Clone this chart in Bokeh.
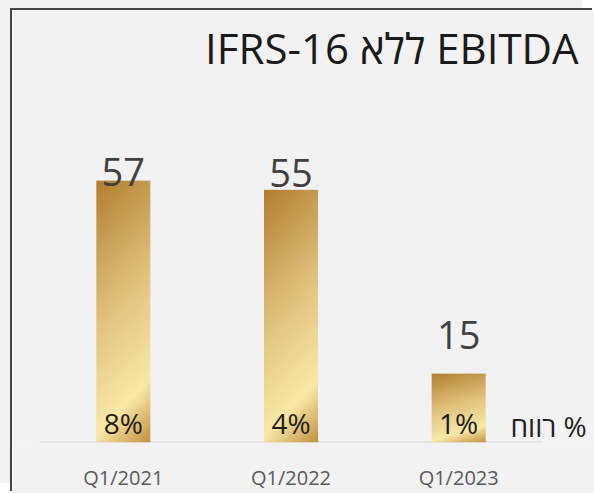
import numpy as np
from bokeh.plotting import figure
from bokeh.models import ColumnDataSource, Label, FixedTicker, Range1d
from bokeh.core.properties import value
from bokeh.embed import file_html
from bokeh.resources import INLINE

# ---- data ----
categories = ["Q1/2021", "Q1/2022", "Q1/2023"]
ebitda = [57, 55, 15]
margin_pct = ["8%", "4%", "1%"]
title_text = "IFRS-16 ללא EBITDA"
margin_caption = "רווח %"

# ---- styling ----
FONT = value("Open Sans")
BAR_W = 0.322
value_label_offsets = [-9, -17, -39]  # px, screen offsets of value labels


def gold_gradient(h=240, w=60):
    stops = [0.0, 0.45, 0.80, 1.0]
    cols = np.array([[0xB2, 0x7F, 0x31], [0xE0, 0xC2, 0x7D],
                     [0xFA, 0xE9, 0xA8], [0xC2, 0x90, 0x40]], dtype=float)
    rows = np.arange(h)[:, None]
    colsx = np.arange(w)[None, :]
    v = 1.0 - rows / (h - 1)          # 0 at top, 1 at bottom
    u = colsx / (w - 1)
    t = 0.82 * v + 0.18 * u
    img = np.empty((h, w), dtype=np.uint32)
    view = img.view(dtype=np.uint8).reshape((h, w, 4))
    for k in range(3):
        view[:, :, k] = np.interp(t, stops, cols[:, k]).astype(np.uint8)
    view[:, :, 3] = 255
    return img


xs = np.arange(len(categories))
src = ColumnDataSource(dict(
    x=xs.astype(float),
    left=xs - BAR_W / 2,
    base=[0.0] * len(xs),
    w=[BAR_W] * len(xs),
    val=ebitda,
    val_txt=[str(v) for v in ebitda],
    pct=margin_pct,
    voff=value_label_offsets,
    image=[gold_gradient() for _ in xs],
))

# layout (pixels); figure is placed at page (12, 10)
W, H = 582, 483
UNIT_X = 503 / 3.0        # px per category
PX_PER_UNIT = 4.594       # px per EBITDA unit
PAD_L, PAD_R = 27, 52     # space left / right of the category band
BOTTOM = 51
frame_h = H - BOTTOM

x0 = -0.5 - PAD_L / UNIT_X
x1 = len(categories) - 0.5 + PAD_R / UNIT_X
y1 = frame_h / PX_PER_UNIT

p = figure(width=W, height=H, output_backend="svg", toolbar_location=None,
           x_range=Range1d(x0, x1), y_range=Range1d(0, y1),
           min_border_left=0, min_border_right=0, min_border_top=0,
           min_border_bottom=BOTTOM)
p.styles = {"margin-left": "12px", "margin-top": "10px",
            "box-shadow": "-2px -2px 0 0 #454545, -12px -10px 0 0 #f2f2f2"}
p.background_fill_color = "#f2f2f2"
p.border_fill_color = "#f2f2f2"
p.outline_line_color = None
p.grid.visible = False
p.yaxis.visible = False

# baseline
p.segment(x0=[-0.5], x1=[len(categories) - 0.5], y0=[0], y1=[0],
          line_color="#d9d9d9", line_width=2)

p.image_rgba(image="image", x="left", y="base", dw="w", dh="val", source=src)

p.text(x="x", y="val", text="val_txt", source=src, y_offset="voff",
       text_align="center", text_baseline="alphabetic",
       text_font=FONT, text_font_size="38px", text_color="#404040")
p.text(x="x", y="base", text="pct", source=src, y_offset=-20,
       text_align="center", text_baseline="alphabetic",
       text_font=FONT, text_font_size="28px", text_color="#1e1e1e")

ax = p.xaxis[0]
ax.ticker = FixedTicker(ticks=list(xs))
ax.major_label_overrides = {int(i): c for i, c in zip(xs, categories)}
ax.major_label_text_font = "Open Sans"
ax.major_label_text_font_size = "20px"
ax.major_label_text_color = "#595959"
ax.major_label_standoff = 15
ax.axis_line_color = None
ax.major_tick_line_color = None
ax.minor_tick_line_color = None

p.add_layout(Label(x=2.715, y=85.9, text=title_text, text_align="right",
                   text_baseline="alphabetic", text_font="Open Sans",
                   text_font_size="42px", text_color="#1a1a1a"))
p.add_layout(Label(x=2.309, y=3.5, text=margin_caption, text_align="left",
                   text_baseline="alphabetic", text_font="Open Sans",
                   text_font_size="28px", text_color="#1e1e1e"))

open("out.html", "w").write(file_html(p, INLINE))
